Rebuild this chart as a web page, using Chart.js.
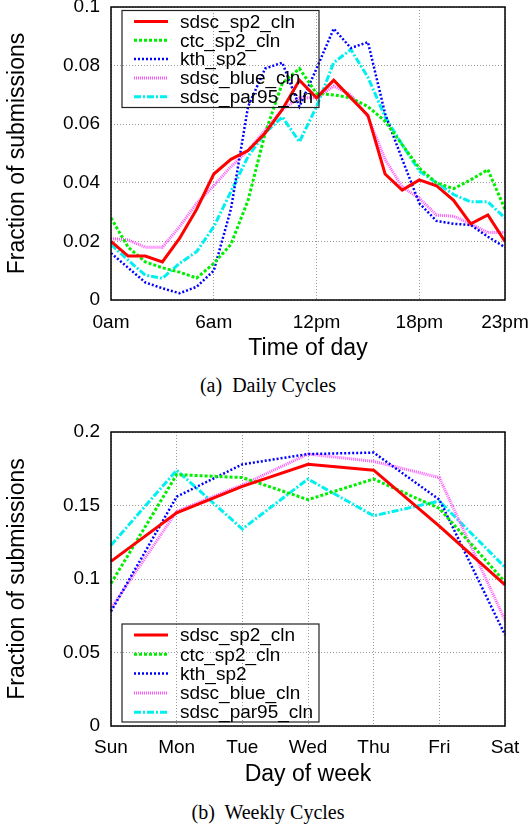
<!DOCTYPE html>
<html>
<head>
<meta charset="utf-8">
<script src="https://cdn.jsdelivr.net/npm/chart.js@4.4.1/dist/chart.umd.min.js"></script>
<style>
  body { margin: 0; background: #fff; }
  #page { position: relative; width: 529px; height: 824px; }
  .box { position: absolute; left: 0; width: 529px; height: 370px; }
  .caption {
    position: absolute; left: 0; width: 536px; text-align: center;
    font-family: "Liberation Serif", "Times New Roman", serif; font-size: 20px;
    line-height: 24px; color: #000;
  }
</style>
</head>
<body>
<div id="page">
  <div class="box" style="top:0"><canvas id="dailyChart" width="529" height="370"></canvas></div>
  <div class="caption" style="top:373px">(a)&nbsp; Daily Cycles</div>
  <div class="box" style="top:420px"><canvas id="weeklyChart" width="529" height="370"></canvas></div>
  <div class="caption" style="top:800px">(b)&nbsp; Weekly Cycles</div>
</div>
<script>
// series names
const seriesNames = ['sdsc_sp2_cln', 'ctc_sp2_cln', 'kth_sp2', 'sdsc_blue_cln', 'sdsc_par95_cln'];

// daily cycles (hour of day)
const hours = [0, 1, 2, 3, 4, 5, 6, 7, 8, 9, 10, 11, 12, 13, 14, 15, 16, 17, 18, 19, 20, 21, 22, 23];
const hourTicks = [0, 6, 12, 18, 23];
const hourTickLabels = ['0am', '6am', '12pm', '18pm', '23pm'];
const dailyYTicks = [0, 0.02, 0.04, 0.06, 0.08, 0.1];
const dailyYTickLabels = ['0', '0.02', '0.04', '0.06', '0.08', '0.1'];

const sdscSp2Daily = [0.020, 0.015, 0.015, 0.013, 0.021, 0.031, 0.043, 0.048, 0.051, 0.057, 0.065, 0.075,
                      0.069, 0.075, 0.069, 0.063, 0.043, 0.0375, 0.041, 0.039, 0.034, 0.026, 0.029, 0.020];
const ctcSp2Daily = [0.028, 0.018, 0.013, 0.011, 0.0095, 0.0075, 0.0125, 0.019, 0.034, 0.057, 0.074, 0.079,
                     0.0705, 0.070, 0.069, 0.066, 0.061, 0.053, 0.045, 0.040, 0.038, 0.041, 0.0445, 0.031];
const kthSp2Daily = [0.016, 0.011, 0.006, 0.004, 0.0023, 0.0045, 0.010, 0.031, 0.066, 0.079, 0.081, 0.066,
                     0.079, 0.0926, 0.086, 0.088, 0.0636, 0.048, 0.033, 0.027, 0.026, 0.0256, 0.0216, 0.018];
const sdscBlueDaily = [0.021, 0.0205, 0.018, 0.018, 0.025, 0.033, 0.039, 0.0455, 0.051, 0.058, 0.065, 0.069,
                       0.069, 0.073, 0.070, 0.0625, 0.048, 0.0386, 0.0347, 0.029, 0.0286, 0.026, 0.023, 0.023];
const sdscPar95Daily = [0.019, 0.0136, 0.0085, 0.0074, 0.0125, 0.0165, 0.025, 0.037, 0.049, 0.057, 0.0625, 0.054,
                        0.066, 0.081, 0.0855, 0.076, 0.0625, 0.053, 0.044, 0.040, 0.036, 0.0335, 0.0335, 0.028];

// weekly cycles
const days = ['Sun', 'Mon', 'Tue', 'Wed', 'Thu', 'Fri', 'Sat'];
const weeklyYTicks = [0, 0.05, 0.1, 0.15, 0.2];
const weeklyYTickLabels = ['0', '0.05', '0.1', '0.15', '0.2'];

const sdscSp2Weekly = [0.112, 0.145, 0.163, 0.178, 0.174, 0.136, 0.096];
const ctcSp2Weekly = [0.097, 0.171, 0.169, 0.154, 0.168, 0.148, 0.098];
const kthSp2Weekly = [0.078, 0.156, 0.178, 0.185, 0.186, 0.154, 0.062];
const sdscBlueWeekly = [0.080, 0.146, 0.164, 0.185, 0.180, 0.169, 0.072];
const sdscPar95Weekly = [0.123, 0.174, 0.134, 0.168, 0.143, 0.153, 0.108];

const lineStyles = [
    { borderColor: '#ff0000', borderWidth: 3, borderDash: [] },
    { borderColor: '#00ee00', borderWidth: 3, borderDash: [3, 2] },
    { borderColor: '#0000ff', borderWidth: 2.5, borderDash: [2, 2] },
    { borderColor: '#ff55ff', borderWidth: 3, borderDash: [1, 1] },
    { borderColor: '#00f0f0', borderWidth: 3, borderDash: [7, 2, 2, 2] }
];

Chart.defaults.font.family = '"Liberation Sans", Arial, sans-serif';
Chart.defaults.color = '#000';

// black frame round the plot area
const framePlugin = {
    id: 'frame',
    afterDraw(chart) {
        const a = chart.chartArea;
        const ctx = chart.ctx;
        ctx.save();
        ctx.strokeStyle = '#000';
        ctx.lineWidth = 1.5;
        ctx.strokeRect(a.left, a.top, a.right - a.left, a.bottom - a.top);
        ctx.restore();
    }
};

// legend box drawn inside the plot area
const boxLegendPlugin = {
    id: 'boxLegend',
    afterDraw(chart, args, opts) {
        const a = chart.chartArea;
        const ctx = chart.ctx;
        const x = a.left + opts.offsetX;
        const y = a.top + opts.offsetY;
        ctx.save();
        ctx.strokeStyle = '#222';
        ctx.lineWidth = 1.2;
        ctx.strokeRect(x, y, opts.width, opts.height);
        ctx.font = '19px "Liberation Sans", Arial, sans-serif';
        ctx.textBaseline = 'middle';
        chart.data.datasets.forEach((ds, i) => {
            const rowY = y + 11 + i * opts.rowGap;
            ctx.beginPath();
            ctx.setLineDash(ds.borderDash);
            ctx.lineWidth = ds.borderWidth;
            ctx.strokeStyle = ds.borderColor;
            ctx.moveTo(x + 12, rowY);
            ctx.lineTo(x + 46, rowY);
            ctx.stroke();
            ctx.setLineDash([]);
            ctx.fillStyle = '#000';
            ctx.fillText(ds.label, x + 58, rowY + 1);
        });
        ctx.restore();
    }
};

function noPadding(scale) {
    scale.paddingLeft = 0;
    scale.paddingRight = 0;
    scale.paddingTop = 0;
    scale.paddingBottom = 0;
}

function makeDatasets(seriesList, xValues) {
    return seriesList.map((vals, i) => ({
        label: seriesNames[i],
        data: xValues ? vals.map((v, j) => ({ x: xValues[j], y: v })) : vals,
        borderColor: lineStyles[i].borderColor,
        borderWidth: lineStyles[i].borderWidth,
        borderDash: lineStyles[i].borderDash,
        fill: false,
        tension: 0,
        pointRadius: 0
    }));
}

function yAxis(max, ticks, labels) {
    return {
        min: 0,
        max: max,
        afterBuildTicks: scale => { scale.ticks = ticks.map(v => ({ value: v })); },
        afterFit: scale => { scale.width = 111; noPadding(scale); },
        ticks: {
            font: { size: 19 },
            padding: 11,
            callback: (value, index) => labels[index]
        },
        grid: { color: '#999', lineWidth: 1, drawTicks: false },
        border: { display: false, dash: [1, 2] },
        title: {
            display: true,
            text: 'Fraction of submissions',
            font: { size: 23 },
            padding: { top: 4, bottom: 0 }
        }
    };
}

function initializeCharts() {
    new Chart(document.getElementById('dailyChart').getContext('2d'), {
        type: 'line',
        data: {
            datasets: makeDatasets([sdscSp2Daily, ctcSp2Daily, kthSp2Daily, sdscBlueDaily, sdscPar95Daily], hours)
        },
        options: {
            responsive: false,
            animation: false,
            layout: { padding: { top: 7, right: 24, left: 0, bottom: 0 } },
            plugins: {
                legend: { display: false },
                tooltip: { enabled: false },
                boxLegend: { offsetX: 11, offsetY: 3.5, width: 197, height: 97, rowGap: 18.8 }
            },
            scales: {
                x: {
                    type: 'linear',
                    min: 0,
                    max: 23,
                    afterBuildTicks: scale => { scale.ticks = hourTicks.map(v => ({ value: v })); },
                    afterFit: scale => { scale.height = 70; noPadding(scale); },
                    ticks: {
                        font: { size: 19 },
                        padding: 11,
                        maxRotation: 0,
                        callback: (value, index) => hourTickLabels[index]
                    },
                    grid: { color: '#999', lineWidth: 1, drawTicks: false },
                    border: { display: false, dash: [1, 2] },
                    title: { display: true, text: 'Time of day', font: { size: 23 }, padding: { top: 0, bottom: 8 } }
                },
                y: yAxis(0.1, dailyYTicks, dailyYTickLabels)
            }
        },
        plugins: [framePlugin, boxLegendPlugin]
    });

    new Chart(document.getElementById('weeklyChart').getContext('2d'), {
        type: 'line',
        data: {
            labels: days,
            datasets: makeDatasets([sdscSp2Weekly, ctcSp2Weekly, kthSp2Weekly, sdscBlueWeekly, sdscPar95Weekly], null)
        },
        options: {
            responsive: false,
            animation: false,
            layout: { padding: { top: 12, right: 24, left: 0, bottom: 0 } },
            plugins: {
                legend: { display: false },
                tooltip: { enabled: false },
                boxLegend: { offsetX: 11, offsetY: 192, width: 197, height: 98, rowGap: 19.3 }
            },
            scales: {
                x: {
                    offset: false,
                    afterFit: scale => { scale.height = 64; noPadding(scale); },
                    ticks: { font: { size: 19 }, padding: 10, maxRotation: 0, autoSkip: false },
                    grid: { color: '#999', lineWidth: 1, drawTicks: false, offset: false },
                    border: { display: false, dash: [1, 2] },
                    title: { display: true, text: 'Day of week', font: { size: 23 }, padding: { top: 0, bottom: 2 } }
                },
                y: yAxis(0.2, weeklyYTicks, weeklyYTickLabels)
            }
        },
        plugins: [framePlugin, boxLegendPlugin]
    });
}

document.addEventListener('DOMContentLoaded', initializeCharts);
</script>
</body>
</html>
